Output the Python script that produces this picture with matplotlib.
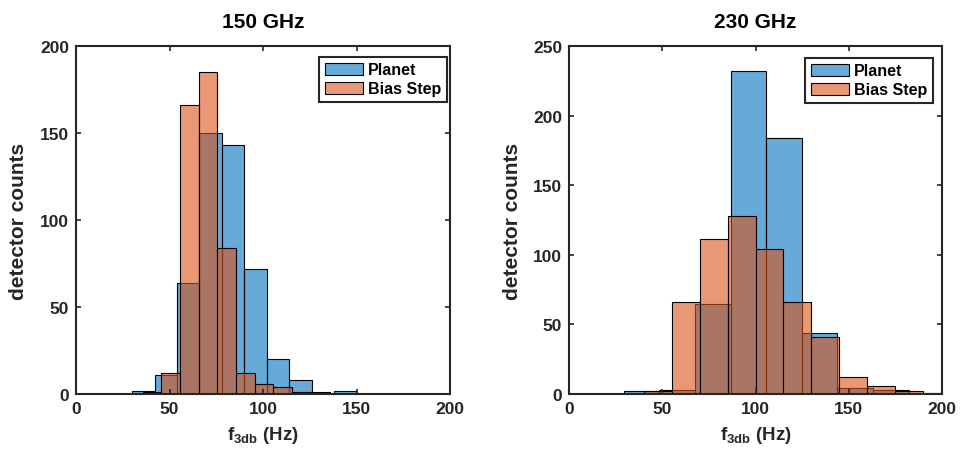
import matplotlib
matplotlib.use("Agg")
import matplotlib.pyplot as plt

plt.rcParams['font.family'] = ['Liberation Sans', 'DejaVu Sans']
plt.rcParams['mathtext.fontset'] = 'custom'
plt.rcParams['mathtext.bf'] = 'Liberation Sans:bold'
plt.rcParams['mathtext.rm'] = 'Liberation Sans:bold'
plt.rcParams['mathtext.it'] = 'Liberation Sans:bold'

# ---- data ----
titles = ["150 GHz", "230 GHz"]
legend_labels = ["Planet", "Bias Step"]

planet150_edges = [30, 42, 54, 66, 78, 90, 102, 114, 126, 138, 150]
planet150_counts = [2, 11, 64, 150, 143, 72, 20, 8, 0, 2]
bias150_edges = [35.6, 45.6, 55.6, 65.6, 75.6, 85.6, 95.6, 105.6, 115.6, 125.6, 135.6]
bias150_counts = [1, 12, 166, 185, 84, 12, 6, 4, 1, 1]

planet230_edges = [29.3, 48.4, 67.5, 86.6, 105.7, 124.8, 143.9, 163.0, 182.1, 201.2]
planet230_counts = [2, 3, 65, 232, 184, 44, 4, 3, 1]
bias230_edges = [40, 55, 70, 85, 100, 115, 130, 145, 160, 175, 190]
bias230_counts = [2, 66, 111, 128, 104, 66, 41, 12, 6, 2]

xticks = [0, 50, 100, 150, 200]
yticks150 = [0, 50, 100, 150, 200]
yticks230 = [0, 50, 100, 150, 200, 250]

# ---- style ----
BLUE = (0.0, 0.447, 0.741, 0.6)
ORANGE = (0.85, 0.325, 0.098, 0.6)
AXC = '#262626'

W, H = 961, 456
fig = plt.figure(figsize=(W / 100, H / 100), dpi=100)

def px_axes(l, r, t, b):
    return fig.add_axes([l / W, 1 - b / H, (r - l) / W, (b - t) / H])

ax1 = px_axes(76, 450, 47, 395)
ax2 = px_axes(569, 942, 47, 395)

def hist(ax, edges, counts, color, label):
    lefts = edges[:-1]
    widths = [edges[i + 1] - edges[i] for i in range(len(counts))]
    ax.bar(lefts, counts, width=widths, align='edge', facecolor=color,
           edgecolor='black', linewidth=0.8, label=label)

setups = [
    (ax1, planet150_edges, planet150_counts, bias150_edges, bias150_counts,
     yticks150, titles[0], (0.992, 0.969), -0.128),
    (ax2, planet230_edges, planet230_counts, bias230_edges, bias230_counts,
     yticks230, titles[1], (0.975, 0.966), -0.125),
]

for ax, pe, pc, be, bc, yt, title, lpos, ylx in setups:
    hist(ax, pe, pc, BLUE, legend_labels[0])
    hist(ax, be, bc, ORANGE, legend_labels[1])
    ax.set_xlim(xticks[0], xticks[-1])
    ax.set_ylim(yt[0], yt[-1])
    ax.set_xticks(xticks)
    ax.set_yticks(yt)
    for s in ax.spines.values():
        s.set_linewidth(1.5)
        s.set_color(AXC)
    ax.tick_params(direction='in', top=True, right=True, length=3.5,
                   width=1.2, color=AXC, labelcolor=AXC, labelsize=12.5,
                   pad=5)
    for lab in ax.get_xticklabels() + ax.get_yticklabels():
        lab.set_fontweight('bold')
    ax.set_title(title, fontsize=15, fontweight='bold', pad=14)
    ax.set_ylabel("detector counts", fontsize=15, fontweight='bold', color=AXC)
    ax.yaxis.set_label_coords(ylx, 0.5)
    ax.set_xlabel(r"$\mathbf{f}_{\mathbf{3db}}$ (Hz)", fontsize=13.5,
                  fontweight='bold', color=AXC, labelpad=6)
    leg = ax.legend(loc='upper right', bbox_to_anchor=lpos, borderaxespad=0,
                    fancybox=False, framealpha=1, edgecolor=AXC,
                    prop={'weight': 'bold', 'size': 11.5},
                    handlelength=2.4, handleheight=0.75, handletextpad=0.3,
                    labelspacing=0.25, borderpad=0.35)
    leg.get_frame().set_linewidth(1.5)

fig.savefig("out.png", dpi=100)
